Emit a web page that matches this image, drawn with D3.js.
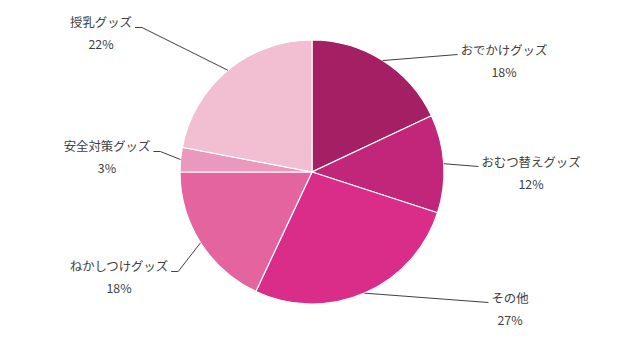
<!DOCTYPE html>
<html>
<head>
<meta charset="utf-8">
<script src="https://cdn.jsdelivr.net/npm/d3@7"></script>
<style>
  body { margin: 0; background: #fff; }
  text { font-family: "Noto Sans CJK JP", "Noto Sans", sans-serif; fill: #404040; }
</style>
</head>
<body>
<div class="pie-chart"></div>
<script>
// データ
const categories = ['おでかけグッズ', 'おむつ替えグッズ', 'その他', 'ねかしつけグッズ', '安全対策グッズ', '授乳グッズ'];
const shares = [18, 12, 27, 18, 3, 22];
const pctLabels = ['18%', '12%', '27%', '18%', '3%', '22%'];
const colors = ['#a51f65', '#c2267a', '#d92d89', '#e464a0', '#eb98be', '#f1bed2'];

// ラベル位置 (円の中心からのずれ)
const labelOffsets = [[192, -121], [219, -9], [198, 127], [-193, 95], [-205, -25], [-211, -149]];

const svg_width = 640, svg_height = 343;
const cx = 312, cy = 172, radius = 132;

const svg = d3.select('.pie-chart').append('svg')
  .attr('width', svg_width).attr('height', svg_height);
const g = svg.append('g').attr('transform', `translate(${cx},${cy})`);

const data = categories.map((c, i) => ({ name: c, value: shares[i], pct: pctLabels[i], color: colors[i], off: labelOffsets[i] }));

const pie = d3.pie().value(d => d.value).sort(null);
const arc = d3.arc().innerRadius(0).outerRadius(radius);
const arcs = pie(data);

g.selectAll('.slice').data(arcs).enter()
  .append('path').attr('class', 'slice')
  .attr('d', arc)
  .style('fill', d => d.data.color)
  .style('stroke', '#fff').style('stroke-width', 1.2);

// ラベル
const labels = g.selectAll('.label').data(arcs).enter()
  .append('g').attr('class', 'label')
  .attr('transform', d => `translate(${d.data.off[0]},${d.data.off[1]})`);
labels.append('text').attr('class', 'name')
  .attr('text-anchor', 'middle').attr('dy', '0.35em')
  .style('font-size', '12.4px')
  .text(d => d.data.name);
labels.append('text')
  .attr('text-anchor', 'middle').attr('y', 21.5).attr('dy', '0.35em')
  .style('font-size', '12.4px')
  .text(d => d.data.pct);

// 引き出し線
labels.each(function(d) {
  const box = d3.select(this).select('.name').node().getBBox();
  const mid = (d.startAngle + d.endAngle) / 2;
  const sx = Math.sin(mid) * radius, sy = -Math.cos(mid) * radius;
  const ox = d.data.off[0], oy = d.data.off[1];
  let pts;
  if (ox > 0) {
    pts = [[sx, sy], [ox + box.x - 3, oy + 3.5]];
  } else {
    const ex = ox + box.x + box.width + 3;
    pts = [[sx, sy], [ex + 7, oy + 4.5], [ex, oy + 4.5]];
  }
  g.append('path').attr('d', d3.line()(pts))
    .style('fill', 'none').style('stroke', '#404040').style('stroke-width', 1);
});
</script>
</body>
</html>
